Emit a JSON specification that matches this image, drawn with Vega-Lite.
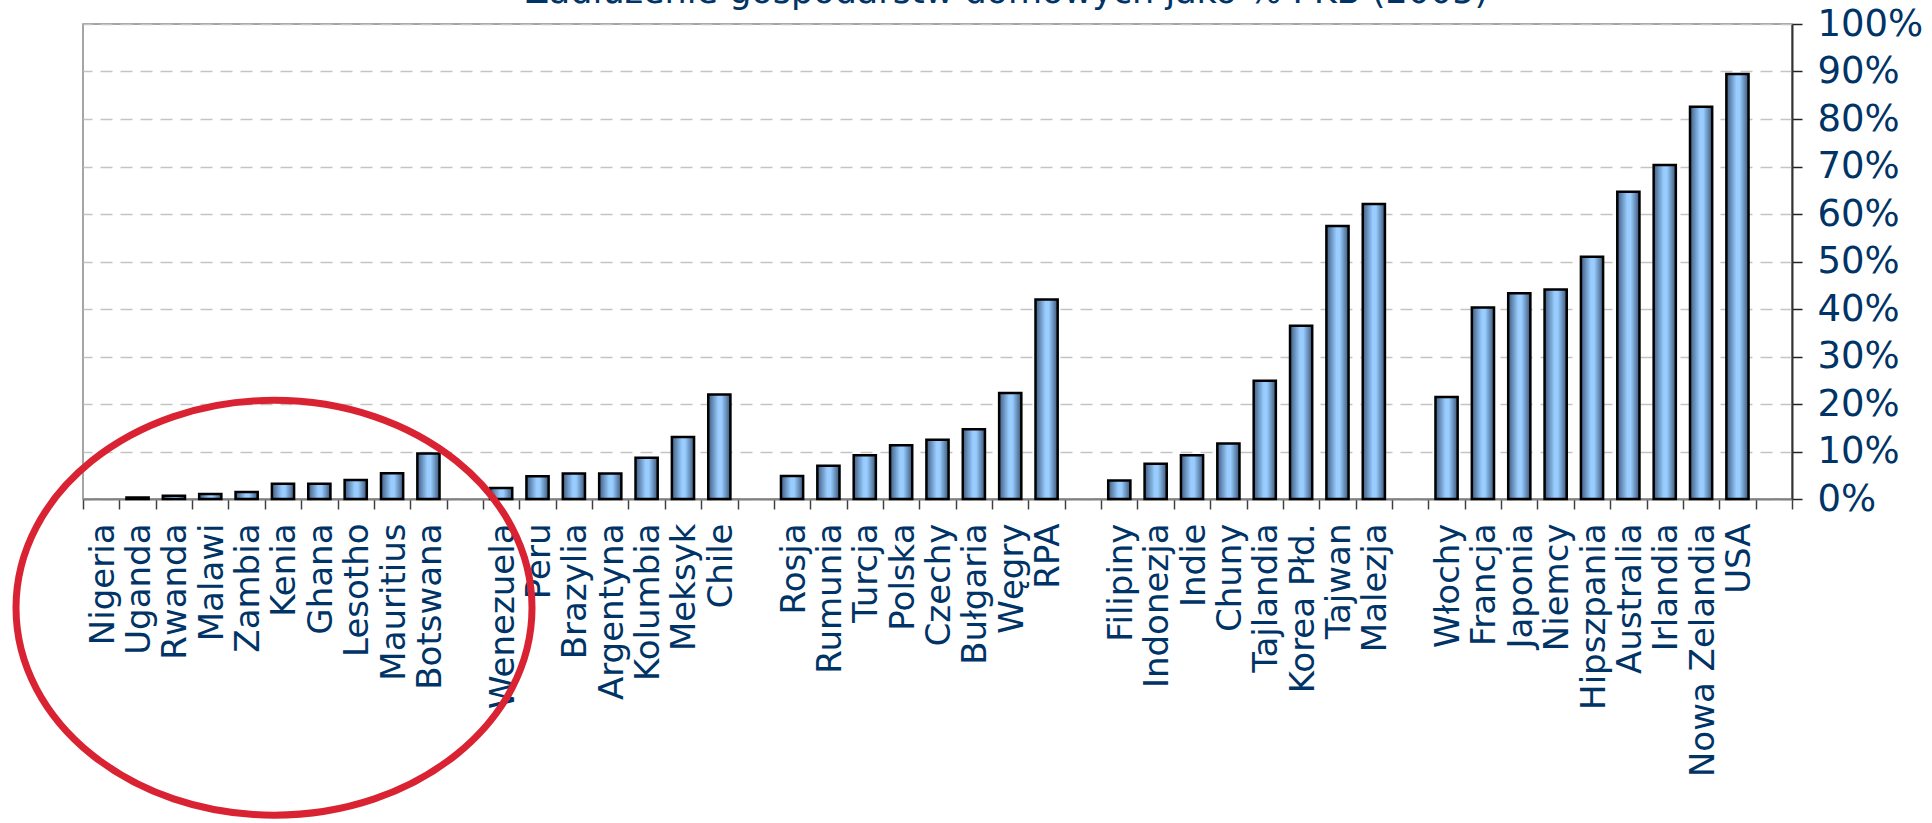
{
  "$schema": "https://vega.github.io/schema/vega-lite/v6.json",
  "width": 1709,
  "height": 475,
  "autosize": {"type": "none"},
  "padding": {"left": 83, "top": 24, "right": 140, "bottom": 324},
  "background": "white",
  "title": {
    "text": "Zadłużenie gospodarstw domowych jako % PKB (2005)",
    "font": "DejaVu Sans",
    "fontSize": 35,
    "fontWeight": "normal",
    "color": "#003366",
    "anchor": "middle",
    "baseline": "alphabetic",
    "offset": -33,
    "dx": 69
  },
  "config": {
    "view": {"stroke": "#888888", "strokeWidth": 1.5},
    "font": "DejaVu Sans",
    "axisX": {
      "tickBand": "extent",
      "labelAngle": 270,
      "labelAlign": "right",
      "labelBaseline": "middle",
      "labelFont": "DejaVu Sans",
      "labelFontSize": 34,
      "labelColor": "#003366",
      "labelPadding": 14,
      "labelLimit": 0,
      "labelOverlap": false,
      "labelOffset": 2,
      "tickSize": 10,
      "tickColor": "#404040",
      "tickWidth": 1.5,
      "domainColor": "#808080",
      "domainWidth": 2,
      "grid": false
    },
    "axisY": {
      "labelFont": "DejaVu Sans",
      "labelFontSize": 37,
      "labelColor": "#003366",
      "labelPadding": 15,
      "labelBaseline": "middle",
      "tickSize": 10,
      "tickColor": "#222222",
      "tickWidth": 1.5,
      "domainColor": "#333333",
      "domainWidth": 2,
      "grid": true,
      "gridColor": "#c4c4c4",
      "gridDash": [12, 8],
      "gridWidth": 1.5
    }
  },
  "datasets": {
    "debt": [
      {"country": "Nigeria", "debt_pct_gdp": null},
      {"country": "Uganda", "debt_pct_gdp": 0.3},
      {"country": "Rwanda", "debt_pct_gdp": 0.7},
      {"country": "Malawi", "debt_pct_gdp": 1.05},
      {"country": "Zambia", "debt_pct_gdp": 1.5},
      {"country": "Kenia", "debt_pct_gdp": 3.2},
      {"country": "Ghana", "debt_pct_gdp": 3.2},
      {"country": "Lesotho", "debt_pct_gdp": 4.0},
      {"country": "Mauritius", "debt_pct_gdp": 5.4},
      {"country": "Botswana", "debt_pct_gdp": 9.6},
      {"country": "Wenezuela", "debt_pct_gdp": 2.3},
      {"country": "Peru", "debt_pct_gdp": 4.8},
      {"country": "Brazylia", "debt_pct_gdp": 5.35},
      {"country": "Argentyna", "debt_pct_gdp": 5.35},
      {"country": "Kolumbia", "debt_pct_gdp": 8.7},
      {"country": "Meksyk", "debt_pct_gdp": 13.05},
      {"country": "Chile", "debt_pct_gdp": 22.0},
      {"country": "Rosja", "debt_pct_gdp": 4.85},
      {"country": "Rumunia", "debt_pct_gdp": 7.0},
      {"country": "Turcja", "debt_pct_gdp": 9.2},
      {"country": "Polska", "debt_pct_gdp": 11.3},
      {"country": "Czechy", "debt_pct_gdp": 12.5},
      {"country": "Bułgaria", "debt_pct_gdp": 14.7},
      {"country": "Węgry", "debt_pct_gdp": 22.3},
      {"country": "RPA", "debt_pct_gdp": 42.0},
      {"country": "Filipiny", "debt_pct_gdp": 3.9},
      {"country": "Indonezja", "debt_pct_gdp": 7.4},
      {"country": "Indie", "debt_pct_gdp": 9.2},
      {"country": "Chuny", "debt_pct_gdp": 11.7},
      {"country": "Tajlandia", "debt_pct_gdp": 24.9},
      {"country": "Korea Płd.", "debt_pct_gdp": 36.5},
      {"country": "Tajwan", "debt_pct_gdp": 57.5},
      {"country": "Malezja", "debt_pct_gdp": 62.1},
      {"country": "Włochy", "debt_pct_gdp": 21.5},
      {"country": "Francja", "debt_pct_gdp": 40.3},
      {"country": "Japonia", "debt_pct_gdp": 43.3},
      {"country": "Niemcy", "debt_pct_gdp": 44.1},
      {"country": "Hipszpania", "debt_pct_gdp": 51.0},
      {"country": "Australia", "debt_pct_gdp": 64.7},
      {"country": "Irlandia", "debt_pct_gdp": 70.3},
      {"country": "Nowa Zelandia", "debt_pct_gdp": 82.6},
      {"country": "USA", "debt_pct_gdp": 89.5}
    ],
    "highlight": [
      {"note": "kraje afrykańskie"}
    ]
  },
  "layer": [
    {
      "data": {"name": "debt"},
      "mark": {
        "type": "bar",
        "width": {"band": 0.61},
        "stroke": "black",
        "strokeWidth": 2.5,
        "color": {
          "gradient": "linear",
          "x1": 0, "x2": 1, "y1": 0, "y2": 0,
          "stops": [
            {"offset": 0, "color": "#3e5c80"},
            {"offset": 0.45, "color": "#99ccff"},
            {"offset": 0.6, "color": "#99ccff"},
            {"offset": 1, "color": "#3a5778"}
          ]
        }
      },
      "encoding": {
        "x": {
          "field": "country",
          "type": "nominal",
          "sort": null,
          "scale": {
            "domain": ["Nigeria", "Uganda", "Rwanda", "Malawi", "Zambia", "Kenia", "Ghana", "Lesotho", "Mauritius", "Botswana", " ",
                       "Wenezuela", "Peru", "Brazylia", "Argentyna", "Kolumbia", "Meksyk", "Chile", "  ",
                       "Rosja", "Rumunia", "Turcja", "Polska", "Czechy", "Bułgaria", "Węgry", "RPA", "   ",
                       "Filipiny", "Indonezja", "Indie", "Chuny", "Tajlandia", "Korea Płd.", "Tajwan", "Malezja", "    ",
                       "Włochy", "Francja", "Japonia", "Niemcy", "Hipszpania", "Australia", "Irlandia", "Nowa Zelandia", "USA", "     "],
            "paddingInner": 0,
            "paddingOuter": 0
          },
          "axis": {"title": null, "orient": "bottom"}
        },
        "y": {
          "field": "debt_pct_gdp",
          "type": "quantitative",
          "scale": {"domain": [0, 100], "nice": false, "zero": true},
          "axis": {
            "title": null,
            "orient": "right",
            "values": [0, 10, 20, 30, 40, 50, 60, 70, 80, 90, 100],
            "labelExpr": "datum.value + '%'"
          }
        }
      }
    },
    {
      "data": {"name": "highlight"},
      "mark": {
        "type": "point",
        "shape": "M -1 0 A 1 0.804 0 1 1 1 0 A 1 0.804 0 1 1 -1 0 Z",
        "size": 266256,
        "filled": false,
        "stroke": "#d92332",
        "strokeWidth": 7,
        "opacity": 1,
        "strokeOpacity": 1
      },
      "encoding": {
        "x": {
          "datum": "Kenia",
          "type": "nominal",
          "bandPosition": 0.253,
          "axis": {"title": null, "orient": "bottom"}
        },
        "y": {
          "datum": -22.9,
          "type": "quantitative",
          "scale": {"domain": [0, 100], "nice": false, "zero": true},
          "axis": {
            "title": null,
            "orient": "right",
            "values": [0, 10, 20, 30, 40, 50, 60, 70, 80, 90, 100],
            "labelExpr": "datum.value + '%'"
          }
        }
      }
    }
  ]
}
